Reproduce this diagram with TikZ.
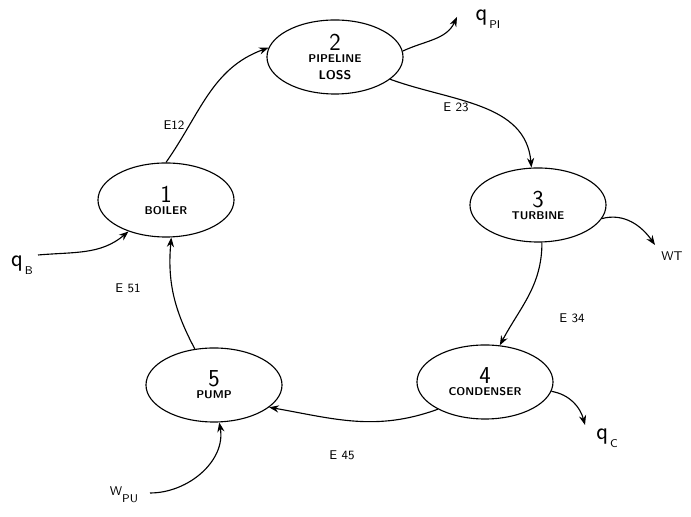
\documentclass[tikz,border=0pt]{standalone}
\usepackage{amsmath,amssymb}
\usepackage{tikz}
\usetikzlibrary{arrows.meta,positioning,shapes.geometric}
\tikzset{
  componente/.style={ellipse,draw=black,thick,minimum width=3.4cm,minimum height=1.85cm,
    inner sep=0pt,align=center,font=\sffamily\bfseries\footnotesize},
  seta/.style={-{Stealth[length=2.4mm,width=1.8mm]},thick,black},
  rotulo/.style={font=\sffamily\small}
}
\newcommand{\numero}[1]{{\normalfont\sffamily\LARGE #1}\\[-1pt]}

\begin{document}
\begin{tikzpicture}[x=0.025cm,y=0.025cm]
\useasboundingbox (0,0) rectangle (691,517);
% componentes do ciclo
\node[componente] (caldeira) at (166,317) {\numero{1}BOILER};
\node[componente] (tubulacao) at (335,460) {\numero{2}PIPELINE\\[2pt]{\small LOSS}};
\node[componente] (turbina) at (538,312) {\numero{3}TURBINE};
\node[componente] (condensador) at (485,135) {\numero{4}CONDENSER};
\node[componente] (bomba) at (214,132) {\numero{5}PUMP};
% pontas livres
\coordinate (qbin) at (38,262);
\coordinate (qpiout) at (457,500);
\coordinate (wtout) at (655,272);
\coordinate (qcout) at (585,92);
\coordinate (wpuin) at (150,24);
% fluxos entre componentes
\draw[seta] (caldeira.north) to[out=55,in=200] (tubulacao.172);
\draw[seta] (tubulacao.-22) to[out=-20,in=95] (turbina.100);
\draw[seta] (turbina.-84) to[out=-90,in=62] (condensador.68);
\draw[seta] (condensador.-150) to[out=-160,in=-10] (bomba.-22);
\draw[seta] (bomba.118) to[out=118,in=-95] (caldeira.-82);
% calor e trabalho
\draw[seta] (qbin) to[out=5,in=-140] (caldeira.-140);
\draw[seta] (tubulacao.5) to[out=25,in=-115] (qpiout);
\draw[seta] (turbina.-12) to[out=15,in=125] (wtout);
\draw[seta] (condensador.-8) to[out=-10,in=105] (qcout);
\draw[seta] (wpuin) to[out=0,in=-80] (bomba.-82);
% rotulos
\node[rotulo] (e12) at (174,392) {E12};
\node[rotulo] (e23) at (456,410) {E 23};
\node[rotulo] (e34) at (572,199) {E 34};
\node[rotulo] (e45) at (342,62) {E 45};
\node[rotulo] (e51) at (128,229) {E 51};
\node[rotulo] (qb) at (22,252) {\LARGE q\raisebox{-6pt}{\footnotesize\,B}};
\node[rotulo] (qpi) at (488,498) {\LARGE q\raisebox{-6pt}{\footnotesize\,PI}};
\node[rotulo] (wt) at (672,261) {WT};
\node[rotulo] (qc) at (607,79) {\LARGE q\raisebox{-6pt}{\footnotesize\,C}};
\node[rotulo] (wpu) at (124,22) {W\raisebox{-5pt}{\footnotesize PU}};
\end{tikzpicture}
\end{document}
